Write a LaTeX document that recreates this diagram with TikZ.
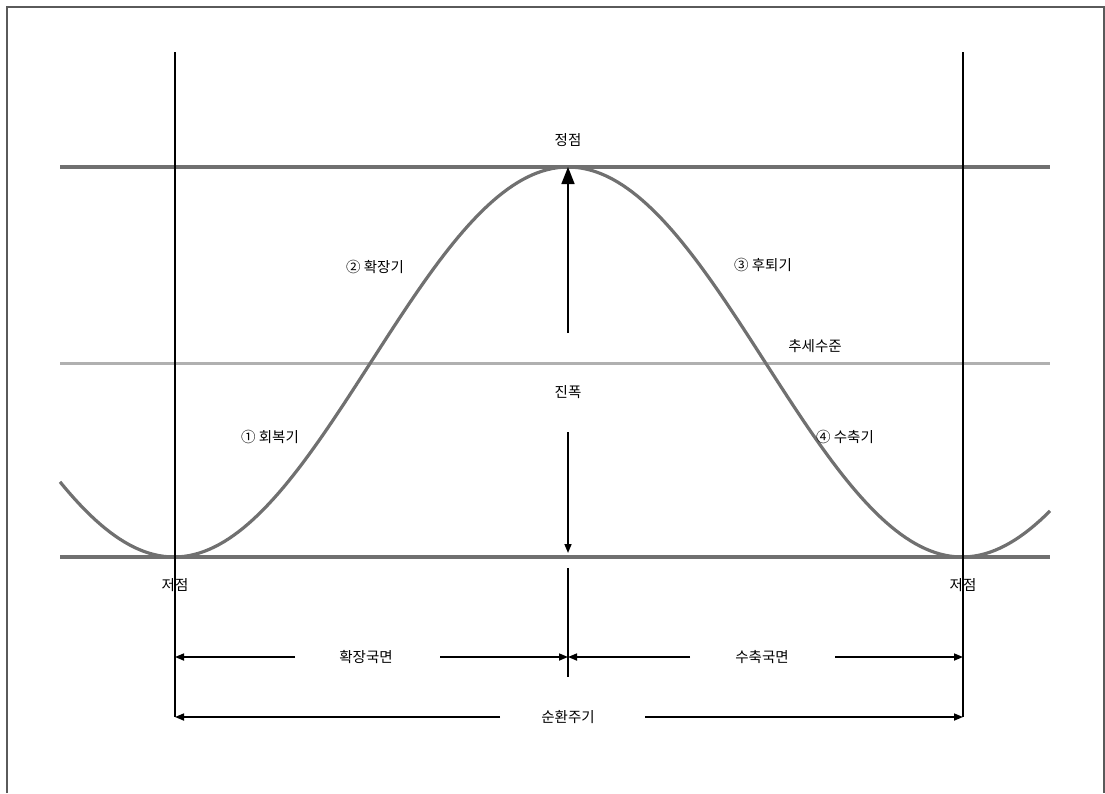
\documentclass[tikz,border=0pt]{standalone}
\usepackage{fontspec}
\setmainfont{Noto Sans CJK KR}
\definecolor{frameg}{RGB}{90,90,90}
\definecolor{bandg}{RGB}{112,112,112}
\definecolor{trendg}{RGB}{176,176,176}
\usetikzlibrary{arrows.meta,positioning}

\begin{document}
\begin{tikzpicture}[x=1pt,y=-1pt,
  lbl/.style={font=\fontsize{14.5}{16}\selectfont,inner sep=1pt},
  band/.style={draw=bandg,line width=3.5pt},
  trend/.style={draw=trendg,line width=3pt},
  wave/.style={draw=bandg,line width=3.2pt},
  rule/.style={draw=black,line width=1.6pt},
  arr/.style={draw=black,line width=1.6pt,-{Triangle[length=9pt,width=7pt]}},
  bigarr/.style={draw=black,line width=1.6pt,-{Triangle[length=17pt,width=13pt]}},
]
  \useasboundingbox (0,0) rectangle (1105,793);
  \draw[frameg,line width=1.5pt] (7,793) -- (7,7) -- (1104,7) -- (1104,793);

  %% levels
  \draw[band] (60,167) -- (1050,167);
  \draw[trend] (60,363) -- (1050,363);
  \draw[band] (60,557) -- (1050,557);
  \draw[wave] plot[domain=60:1050,samples=200] (\x,{362-195*cos((\x-568)/788*360)});

  %% period limits
  \coordinate (lt) at (175,52);  \coordinate (lb) at (175,717);
  \coordinate (rt) at (963,52);  \coordinate (rb) at (963,717);
  \draw[rule] (lt) -- (lb);
  \draw[rule] (rt) -- (rb);

  %% labels
  \node[lbl] (peak) at (568,140) {정점};
  \node[lbl] (amp) at (568,392) {진폭};
  \node[lbl] (lowL) at (175,585) {저점};
  \node[lbl] (lowR) at (963,585) {저점};
  \node[lbl] (trd) at (815,346) {추세수준};
  \node[lbl] (ph1) at (270,437) {① 회복기};
  \node[lbl] (ph2) at (375,267) {② 확장기};
  \node[lbl] (ph3) at (763,265) {③ 후퇴기};
  \node[lbl] (ph4) at (845,437) {④ 수축기};
  \node[lbl] (exp) at (366,657) {확장국면};
  \node[lbl] (con) at (762,657) {수축국면};
  \node[lbl] (cyc) at (568,717) {순환주기};

  %% amplitude
  \coordinate (top) at (568,167);  \coordinate (bot) at (568,553);
  \coordinate (a1) at (568,333);   \coordinate (a2) at (568,432);
  \draw[bigarr] (a1) -- (top);
  \draw[arr] (a2) -- (bot);
  \coordinate (m1) at (568,568);   \coordinate (m2) at (568,677);
  \draw[rule] (m1) -- (m2);

  %% phases and cycle
  \coordinate (eL) at (295,657);  \coordinate (eR) at (440,657);
  \coordinate (cL) at (690,657);  \coordinate (cR) at (835,657);
  \coordinate (mid) at (568,657);
  \draw[arr] (eL) -- (lt |- eL);
  \draw[arr] (eR) -- (mid);
  \draw[arr] (cL) -- (mid);
  \draw[arr] (cR) -- (rt |- cR);
  \coordinate (sL) at (500,717);  \coordinate (sR) at (645,717);
  \draw[arr] (sL) -- (lb);
  \draw[arr] (sR) -- (rb);
\end{tikzpicture}
\end{document}
